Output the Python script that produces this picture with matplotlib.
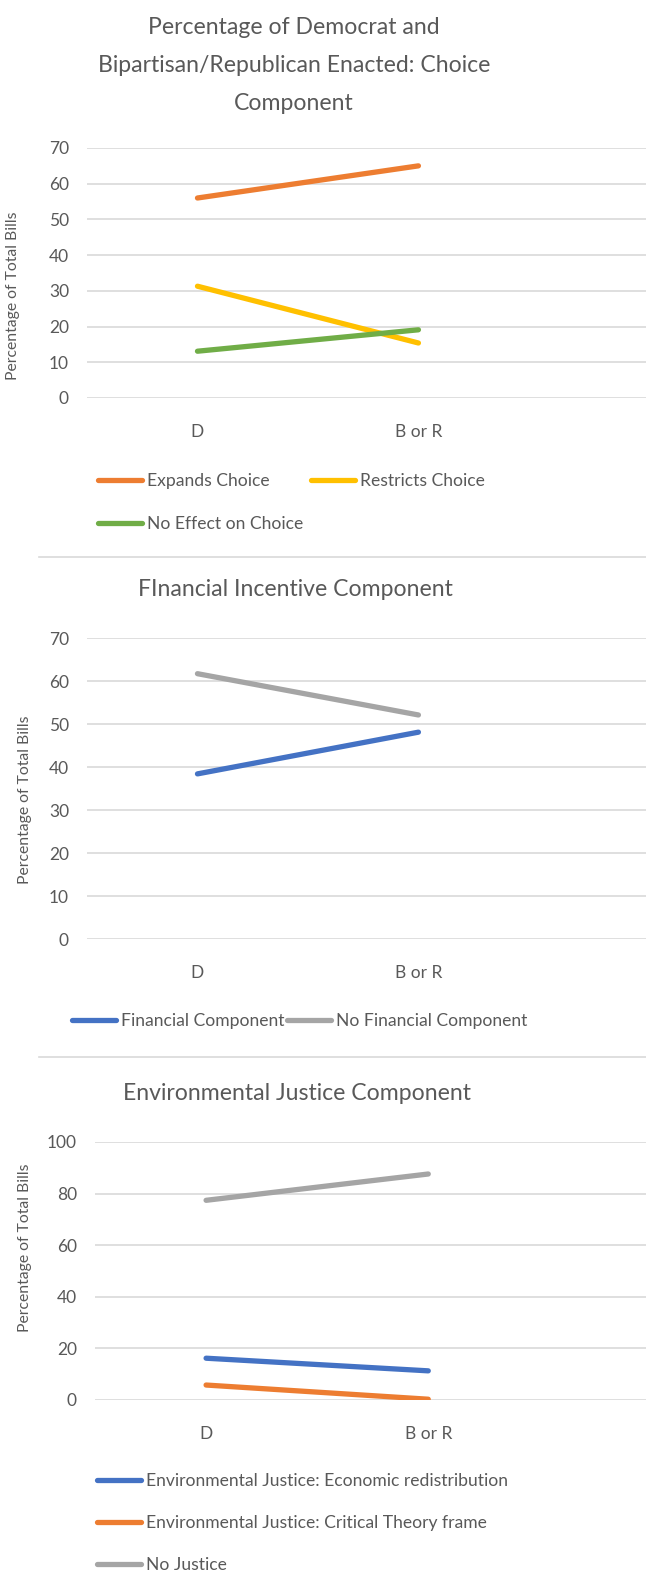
import matplotlib
matplotlib.use("Agg")
import matplotlib.pyplot as plt
from matplotlib.lines import Line2D

plt.rcParams['font.family'] = ['Lato', 'DejaVu Sans']

categories = ["D", "B or R"]

choice_title = "Percentage of Democrat and\nBipartisan/Republican Enacted: Choice\nComponent"
choice_labels = ["Expands Choice", "Restricts Choice", "No Effect on Choice"]
choice_values = [[56, 65], [31.3, 15.4], [13.1, 19.1]]
choice_colors = ["#ED7D31", "#FFC000", "#70AD47"]

fin_title = "FInancial Incentive Component"
fin_labels = ["Financial Component", "No Financial Component"]
fin_values = [[38.4, 48.1], [61.7, 52.1]]
fin_colors = ["#4472C4", "#A5A5A5"]

ej_title = "Environmental Justice Component"
ej_labels = ["Environmental Justice: Economic redistribution",
             "Environmental Justice: Critical Theory frame",
             "No Justice"]
ej_values = [[16.2, 11.3], [5.8, 0.3], [77.4, 87.6]]
ej_colors = ["#4472C4", "#ED7D31", "#A5A5A5"]

W, H = 646, 1585
fig = plt.figure(figsize=(W / 100, H / 100), dpi=100)

TXT = "#595959"
GRID = "#D9D9D9"


def add_ax(left, top, bottom, right=646):
    return fig.add_axes([left / W, 1 - bottom / H, (right - left) / W, (bottom - top) / H])


def style(ax, ymax, step, xmax, lab_x, lab_y):
    ax.set_ylim(0, ymax)
    ax.set_xlim(-0.5, xmax)
    ax.set_yticks(range(0, ymax + 1, step))
    ax.set_xticks(range(len(categories)))
    ax.set_xticklabels(categories)
    for s in ax.spines.values():
        s.set_visible(False)
    ax.grid(axis='y', color=GRID, lw=1.2)
    ax.set_axisbelow(True)
    ax.tick_params(length=0, labelsize=12.5, colors=TXT)
    ax.tick_params(axis='y', pad=13)
    ax.tick_params(axis='x', pad=19)
    ax.set_ylabel("Percentage of Total Bills", fontsize=11.3, color=TXT)
    ax.yaxis.set_label_coords(lab_x / W, 1 - lab_y / H, transform=fig.transFigure)


def draw(ax, values, labels, colors):
    handles = []
    for v, l, c in zip(values, labels, colors):
        h, = ax.plot(range(len(categories)), v, color=c, lw=3.8, label=l,
                     solid_capstyle='round')
        handles.append(h)
    return handles


def legend(ax, handles, ncol, x, y, lsp=1.55, colsp=0.45):
    leg = ax.legend(handles=handles, loc='upper left', bbox_to_anchor=(x / W, 1 - y / H),
                    bbox_transform=fig.transFigure, ncol=ncol, frameon=False,
                    fontsize=12.6, handlelength=2.5, handletextpad=0.3,
                    columnspacing=colsp, labelspacing=lsp, borderpad=0,
                    borderaxespad=0)
    for t in leg.get_texts():
        t.set_color(TXT)
    return leg


# Panel 1
ax1 = add_ax(87, 148, 398)
h1 = draw(ax1, choice_values, choice_labels, choice_colors)
style(ax1, 70, 10, 2.03, 20, 296)
fig.text(294 / W, 1 - 65 / H, choice_title, ha='center', va='center', fontsize=16.6,
         color=TXT, linespacing=2.0)
legend(ax1, [h1[0], h1[2], h1[1]], 2, 98, 473)

# Panel 2
ax2 = add_ax(87, 638, 939)
h2 = draw(ax2, fin_values, fin_labels, fin_colors)
style(ax2, 70, 10, 2.03, 32, 800)
fig.text(295 / W, 1 - 590 / H, fin_title, ha='center', va='center', fontsize=16.6, color=TXT)
legend(ax2, h2, 2, 72, 1013, colsp=0.15)

# Panel 3
ax3 = add_ax(95, 1142, 1400)
h3 = draw(ax3, ej_values, ej_labels, ej_colors)
style(ax3, 100, 20, 1.98, 32, 1248)
fig.text(297 / W, 1 - 1094 / H, ej_title, ha='center', va='center', fontsize=16.6, color=TXT)
legend(ax3, h3, 1, 97, 1473, lsp=1.5)

# separators
for y in [557, 1057]:
    fig.add_artist(Line2D([39 / W, 1], [1 - y / H, 1 - y / H], color=GRID, lw=1.2,
                          transform=fig.transFigure))

fig.savefig("out.png", dpi=100, facecolor="white")
